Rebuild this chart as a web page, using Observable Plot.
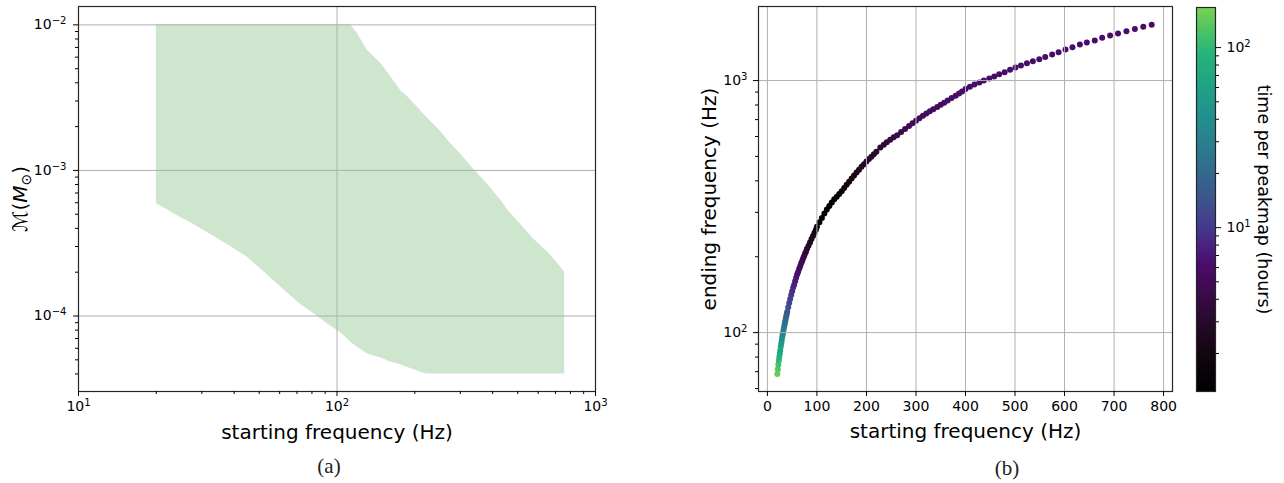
<!DOCTYPE html>
<html><head><meta charset="utf-8">
<script src="https://cdn.jsdelivr.net/npm/d3@7"></script>
<script src="https://cdn.jsdelivr.net/npm/@observablehq/plot@0.6"></script>
<style>
html,body{margin:0;padding:0;background:#fff;}
#wrap{position:relative;width:1284px;height:483px;overflow:hidden;font-family:"DejaVu Sans",sans-serif;}
.panel{position:absolute;top:0;}
.cap{position:absolute;font-family:"Liberation Serif",serif;font-size:21px;transform:translate(-50%,-50%);color:#222;}
</style></head><body><div id="wrap"></div>
<script>
// ---------- panel (a): chirp-mass coverage ----------
const massFreq  = [20,22,24,27,31,35,40,45,50,57,64,72,82,92,104,113,120,131,148,160,177,188,200,218,225,250,269,300,341,372,432,459,500,565,646,700,760];
const massLower = [5.9e-4,5.4e-4,4.9e-4,4.4e-4,3.8e-4,3.35e-4,2.9e-4,2.53e-4,2.15e-4,1.75e-4,1.45e-4,1.21e-4,1.03e-4,8.8e-5,7.6e-5,6.6e-5,6.1e-5,5.5e-5,5.15e-5,4.85e-5,4.6e-5,4.43e-5,4.25e-5,4.03e-5,4e-5,4e-5,4e-5,4e-5,4e-5,4e-5,4e-5,4e-5,4e-5,4e-5,4e-5,4e-5,4e-5];
const massUpper = [1e-2,1e-2,1e-2,1e-2,1e-2,1e-2,1e-2,1e-2,1e-2,1e-2,1e-2,1e-2,1e-2,1e-2,1e-2,1e-2,8.7e-3,6.7e-3,5.4e-3,4.5e-3,3.5e-3,3.2e-3,2.85e-3,2.4e-3,2.26e-3,1.88e-3,1.6e-3,1.3e-3,1.0e-3,8.5e-4,6.2e-4,5.3e-4,4.5e-4,3.5e-4,2.8e-4,2.4e-4,2.0e-4];
const leftXMajor = [10,100,1000];
const leftXMinor = [20,30,40,50,60,70,80,90,200,300,400,500,600,700,800,900];
const leftYMajor = [1e-4,1e-3,1e-2];
const leftYMinor = [4e-5,5e-5,6e-5,7e-5,8e-5,9e-5,2e-4,3e-4,4e-4,5e-4,6e-4,7e-4,8e-4,9e-4,2e-3,3e-3,4e-3,5e-3,6e-3,7e-3,8e-3,9e-3];
const leftXLabel = "starting frequency (Hz)";
const leftYLabel = "ℳ(M⊙)";

// ---------- panel (b): start vs end frequency ----------
const startFreq = [20,21,22,23,24,25,26,27,28,29,30,31,32,33,34,35,36,37,38,39,40,42,44,46,48,50,52,54,56,58,60,62,64,66,68,70,72,74,76,78,80,83,86,89,92,95,98,
  100,105,110,115,120,125,130,135,140,145,150,155,160,165,170,175,180,185,190,195,200,205,210,215,220,228,235,241,248,255,262,270,278,286,293,300,307,314,321,328,335,343,350,357,364,372,380,387,393,
  400,409,418,428,437,448,458,468,479,490,501,512,524,536,549,561,575,588,602,616,631,645,661,676,692,708,725,742,759,776];
const endFreq = [68.5,71.5,74.5,77.5,80,82.5,85,88,90.5,93,96,98.5,101,103.5,106,108.5,111,113.5,116,118.5,121,126,131,136,141,146,151,155,160,165,170,174,179,183,188,192,197,201,206,210,215,221,228,235,242,249,256,
  263,274,285,297,308,318,328,338,346,355,364,375,386,397,409,420,432,443,455,466,477,488,499,510,522,543,556,569,582,596,607,625,643,661,677,693,709,725,740,755,770,785,801,817,833,852,870,888,905,
  925,944,964,982,1000,1018,1037,1059,1079,1103,1127,1148,1172,1194,1216,1241,1268,1295,1328,1356,1390,1416,1443,1479,1510,1538,1570,1600,1634,1664];
const peakmapHours = [150,130,115,100,88,76,66,58,51,45,40,36,32,29,26,23.5,21.5,19.5,18,16.5,15.5,13.5,12,11,10,9.3,8.6,8,7.5,7,6.6,6.2,5.8,5.4,5,4.7,4.4,4.1,3.8,3.5,3.3,3.0,2.7,2.4,2.2,2.0,1.8,
  1.7,1.5,1.4,1.35,1.3,1.3,1.35,1.4,1.5,1.6,1.7,1.8,1.9,2.0,2.1,2.2,2.3,2.4,2.5,2.6,2.7,2.8,2.9,3.0,3.1,3.3,3.5,3.6,3.8,4.0,4.2,4.4,4.6,4.8,4.9,5.0,5.1,5.2,5.3,5.4,5.5,5.6,5.7,5.8,5.8,5.9,5.9,6.0,6.0,
  6,6,6,6,6,6,6,6,6,6,6,6,6,6,6,6,6,6,6,6,6,6,6,6,6,6,6,6,6,6];
const rightXTicks = [0,100,200,300,400,500,600,700,800];
const rightYMajor = [100,1000];
const rightYMinor = [60,70,80,90,200,300,400,500,600,700,800,900];
const rightXLabel = "starting frequency (Hz)";
const rightYLabel = "ending frequency (Hz)";
const cbMajor = [10,100];
const cbMinor = [2,3,4,5,6,7,8,9,20,30,40,50,60,70,80,90];
const cbLabel = "time per peakmap (hours)";
const cbDomain = [1.23,167];

// colormap stops (position, colour)
const cmapStops = [[0,"#000000"],[0.1,"#130610"],[0.2,"#2c0a33"],[0.28,"#410b55"],[0.33,"#4a0c6b"],[0.38,"#4b2183"],[0.43,"#453a8c"],[0.5,"#3d548c"],[0.57,"#33698e"],[0.65,"#29808e"],[0.72,"#21918c"],[0.8,"#1fa386"],[0.88,"#26b47a"],[0.94,"#4cc465"],[1,"#7ad151"]];
function cmap(t){
  t = Math.max(0, Math.min(1, t));
  for (let i = 1; i < cmapStops.length; i++) {
    const [t1, c1] = cmapStops[i];
    if (t <= t1) { const [t0, c0] = cmapStops[i-1]; return d3.interpolateRgb(c0, c1)((t - t0) / (t1 - t0)); }
  }
  return cmapStops[cmapStops.length-1][1];
}

const ns = "http://www.w3.org/2000/svg";
function supify(svg){
  svg.querySelectorAll("text").forEach(t => {
    const m = /^10\^(-?\d+)$/.exec(t.textContent);
    if (m) {
      t.textContent = "10";
      const s = document.createElementNS(ns, "tspan");
      s.setAttribute("dy", "-0.5em"); s.setAttribute("font-size", "0.72em");
      s.textContent = m[1].replace("-", "\u2212");
      t.appendChild(s);
    }
    if (t.textContent === leftYLabel) {
      t.textContent = "ℳ(";
      const a = document.createElementNS(ns, "tspan"); a.setAttribute("font-style", "italic"); a.textContent = "M";
      const b = document.createElementNS(ns, "tspan"); b.setAttribute("dy", "0.3em"); b.setAttribute("font-size", "0.7em"); b.textContent = "⊙";
      const c = document.createElementNS(ns, "tspan"); c.setAttribute("dy", "-0.21em"); c.textContent = ")";
      t.append(a, b, c);
    }
  });
}
const expFmt = d => "10^" + Math.round(Math.log10(d));
const baseStyle = {fontFamily: "DejaVu Sans", fontSize: "14px", color: "#000", background: "transparent", overflow: "visible"};
const gridStyle = {stroke: "#b0b0b0", strokeWidth: 1};

const wrap = document.getElementById("wrap");
function place(el, left){ const d = document.createElement("div"); d.className = "panel"; d.style.left = left + "px"; d.appendChild(el); wrap.appendChild(d); }

// panel (a)
const massRows = massFreq.map((f, i) => ({f, lo: massLower[i], hi: massUpper[i]}));
const figA = Plot.plot({
  width: 620, height: 445, marginLeft: 78, marginRight: 25, marginTop: 6, marginBottom: 54,
  style: baseStyle,
  x: {type: "log", domain: [10, 1000]},
  y: {type: "log", domain: [3.03e-5, 1.337e-2]},
  marks: [
    Plot.areaY(massRows, {x: "f", y1: "lo", y2: "hi", fill: "#cde6cd"}),
    Plot.ruleX(leftXMajor, gridStyle),
    Plot.ruleY(leftYMajor, gridStyle),
    Plot.frame({stroke: "#262626", strokeWidth: 1.2}),
    Plot.axisX(leftXMajor, {tickSize: 5, tickPadding: 5, tickFormat: expFmt, label: null}),
    Plot.axisX(leftXMinor, {tickSize: 3, tickFormat: () => "", label: null}),
    Plot.axisY(leftYMajor, {tickSize: 5, tickPadding: 7, tickFormat: expFmt, label: null}),
    Plot.axisY(leftYMinor, {tickSize: 3, tickFormat: () => "", label: null}),
    Plot.text([leftXLabel], {text: d => d, frameAnchor: "bottom", dy: 41, lineAnchor: "middle", textAnchor: "middle", fontSize: 20}),
    Plot.text([leftYLabel], {text: d => d, frameAnchor: "left", dx: -58, rotate: -90, lineAnchor: "middle", textAnchor: "middle", fontSize: 20})
  ]
});
supify(figA);
place(figA, 0);

// panel (b)
const pts = startFreq.map((f, i) => ({f0: f, f1: endFreq[i], t: peakmapHours[i]}));
const figB = Plot.plot({
  width: 490, height: 445, marginLeft: 68, marginRight: 8, marginTop: 6, marginBottom: 54,
  style: baseStyle,
  x: {domain: [-18, 818]},
  y: {type: "log", domain: [58.4, 1967]},
  color: {type: "log", domain: cbDomain, interpolate: t => cmap(t)},
  marks: [
    Plot.dot(pts, {x: "f0", y: "f1", fill: "t", r: 3}),
    Plot.ruleX(rightXTicks, gridStyle),
    Plot.ruleY(rightYMajor, gridStyle),
    Plot.frame({stroke: "#262626", strokeWidth: 1.2}),
    Plot.axisX(rightXTicks, {tickSize: 5, tickPadding: 5, label: null}),
    Plot.axisY(rightYMajor, {tickSize: 5, tickPadding: 6, tickFormat: expFmt, label: null}),
    Plot.axisY(rightYMinor, {tickSize: 3, tickFormat: () => "", label: null}),
    Plot.text([rightXLabel], {text: d => d, frameAnchor: "bottom", dy: 40, lineAnchor: "middle", textAnchor: "middle", fontSize: 20}),
    Plot.text([rightYLabel], {text: d => d, frameAnchor: "left", dx: -49, rotate: -90, lineAnchor: "middle", textAnchor: "middle", fontSize: 20})
  ]
});
supify(figB);
place(figB, 690);

// colorbar
const figC = Plot.plot({
  width: 104, height: 445, marginLeft: 16, marginRight: 69, marginTop: 7, marginBottom: 54,
  style: baseStyle,
  x: {domain: [0, 1], axis: null},
  y: {type: "log", domain: cbDomain, axis: null},
  marks: [
    Plot.frame({fill: "url(#cbgrad)", stroke: "#262626", strokeWidth: 1.2}),
    Plot.axisY(cbMajor, {anchor: "right", tickSize: 5, tickPadding: 6, tickFormat: expFmt, label: null}),
    Plot.axisY(cbMinor, {anchor: "right", tickSize: 3, tickFormat: () => "", label: null}),
    Plot.text([cbLabel], {text: d => d, frameAnchor: "right", dx: 48, rotate: 90, lineAnchor: "middle", textAnchor: "middle", fontSize: 17.5})
  ]
});
{
  const defs = document.createElementNS(ns, "defs");
  const g = document.createElementNS(ns, "linearGradient");
  g.setAttribute("id", "cbgrad"); g.setAttribute("x1", "0"); g.setAttribute("y1", "1"); g.setAttribute("x2", "0"); g.setAttribute("y2", "0");
  cmapStops.forEach(([o, c]) => { const s = document.createElementNS(ns, "stop"); s.setAttribute("offset", o); s.setAttribute("stop-color", c); g.appendChild(s); });
  defs.appendChild(g); figC.insertBefore(defs, figC.firstChild);
}
supify(figC);
place(figC, 1180);

// captions
[["(a)", 329, 466], ["(b)", 1007, 468]].forEach(([s, x, y]) => {
  const d = document.createElement("div"); d.className = "cap"; d.textContent = s;
  d.style.left = x + "px"; d.style.top = y + "px"; wrap.appendChild(d);
});
</script></body></html>
